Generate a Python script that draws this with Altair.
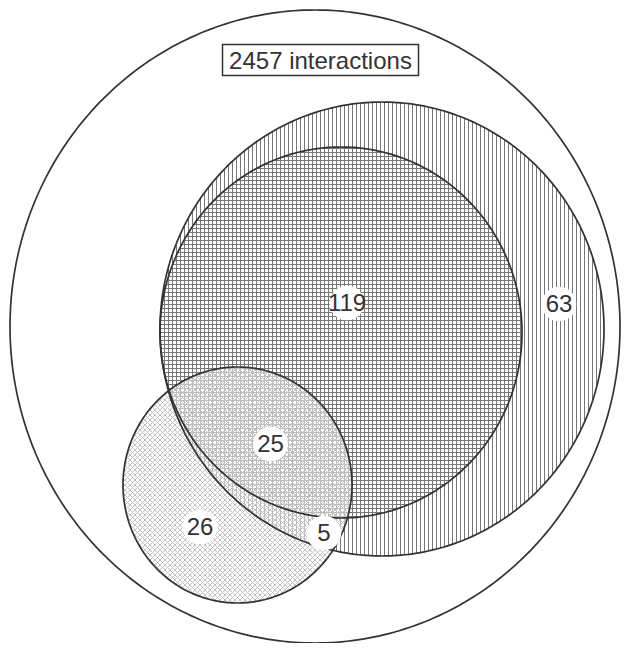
import altair as alt
import numpy as np
import pandas as pd

# ---- content ----
total_label = "2457 interactions"
region_counts = ["119", "63", "25", "26", "5"]
label_x = [347, 559, 270.5, 200, 324]
label_y = [303, 304, 444, 527, 533]

# ---- set geometry (page pixel coordinates) ----
set_names = ["outer", "large", "medium", "small"]
set_cx = [315, 382, 341, 237.5]
set_cy = [326.5, 329, 332.5, 485]
set_rx = [305, 222, 181, 114.5]
set_ry = [316.5, 227, 185.5, 118]

title_box = {"x": 222.5, "x2": 418.5, "y": 44.5, "y2": 75.5, "tx": 320.5, "ty": 60.5}

W, H = 613, 635
xs = alt.Scale(domain=[8, 8 + W], nice=False, zero=False)
ys = alt.Scale(domain=[8, 8 + H], nice=False, zero=False, reverse=True)
INK = "#333333"
HATCH = "#777777"


def geom(name):
    i = set_names.index(name)
    return set_cx[i], set_cy[i], set_rx[i], set_ry[i]


def vertical_hatch(name, step=4.0):
    cx, cy, rx, ry = geom(name)
    rows = []
    k0 = np.ceil((cx - rx - 0.5) / step)
    x = k0 * step + 0.5
    while x < cx + rx:
        u = (x - cx) / rx
        if abs(u) < 1:
            h = ry * np.sqrt(1 - u * u)
            rows.append({"x": x, "y": cy - h, "x2": x, "y2": cy + h})
        x += step
    return rows


def horizontal_hatch(name, step=4.0):
    cx, cy, rx, ry = geom(name)
    rows = []
    k0 = np.ceil((cy - ry - 0.5) / step)
    y = k0 * step + 0.5
    while y < cy + ry:
        v = (y - cy) / ry
        if abs(v) < 1:
            w = rx * np.sqrt(1 - v * v)
            rows.append({"x": cx - w, "y": y, "x2": cx + w, "y2": y})
        y += step
    return rows


def diagonal_hatch(name, step=5.0):
    cx, cy, rx, ry = geom(name)
    rows = []
    a = 1 / rx**2 + 1 / ry**2
    span = rx + ry + 10
    c = np.floor((cx - cy - span) / step) * step
    while c < cx - cy + span:
        b = 2 * (c - cx) / rx**2 - 2 * cy / ry**2
        cc = (c - cx) ** 2 / rx**2 + cy**2 / ry**2 - 1
        d = b * b - 4 * a * cc
        if d > 0:
            s1 = (-b - np.sqrt(d)) / (2 * a)
            s2 = (-b + np.sqrt(d)) / (2 * a)
            rows.append({"x": c + s1, "y": s1, "x2": c + s2, "y2": s2})
        c += step
    c = np.floor((cx + cy - span) / step) * step
    while c < cx + cy + span:
        b = -2 * (c - cx) / rx**2 - 2 * cy / ry**2
        cc = (c - cx) ** 2 / rx**2 + cy**2 / ry**2 - 1
        d = b * b - 4 * a * cc
        if d > 0:
            s1 = (-b - np.sqrt(d)) / (2 * a)
            s2 = (-b + np.sqrt(d)) / (2 * a)
            rows.append({"x": c - s1, "y": s1, "x2": c - s2, "y2": s2})
        c += step
    return rows


def rules(rows, color, width=1.0, opacity=1.0):
    return alt.Chart(pd.DataFrame(rows)).mark_rule(
        color=color, strokeWidth=width, opacity=opacity
    ).encode(
        x=alt.X("x:Q", scale=xs, axis=None),
        x2="x2:Q",
        y=alt.Y("y:Q", scale=ys, axis=None),
        y2="y2:Q",
    )


outline_rows = []
t = np.linspace(0, 2 * np.pi, 361)
for n in set_names:
    cx, cy, rx, ry = geom(n)
    for j, tt in enumerate(t):
        outline_rows.append({"set": n, "i": j, "x": cx + rx * np.cos(tt), "y": cy + ry * np.sin(tt)})
outlines = alt.Chart(pd.DataFrame(outline_rows)).mark_line(
    color=INK, strokeWidth=1.7
).encode(
    x=alt.X("x:Q", scale=xs, axis=None),
    y=alt.Y("y:Q", scale=ys, axis=None),
    detail="set:N",
    order="i:Q",
)

cx, cy, rx, ry = geom("small")
fx = cx + rx * np.cos(np.linspace(np.pi, 0, 241))
fh = ry * np.sqrt(np.clip(1 - ((fx - cx) / rx) ** 2, 0, 1))
small_fill = alt.Chart(pd.DataFrame({"x": fx, "ylo": cy - fh, "yhi": cy + fh})).mark_area(
    color="white", opacity=0.5
).encode(
    x=alt.X("x:Q", scale=xs, axis=None),
    y=alt.Y("ylo:Q", scale=ys, axis=None),
    y2="yhi:Q",
)

labels_df = pd.DataFrame({"label": region_counts, "x": label_x, "y": label_y})
disks = alt.Chart(labels_df).mark_circle(color="white", opacity=1, size=1200).encode(
    x=alt.X("x:Q", scale=xs, axis=None),
    y=alt.Y("y:Q", scale=ys, axis=None),
)
texts = alt.Chart(labels_df).mark_text(
    font="Liberation Sans", fontSize=24, color=INK, align="center", baseline="middle", dy=1
).encode(
    x=alt.X("x:Q", scale=xs, axis=None),
    y=alt.Y("y:Q", scale=ys, axis=None),
    text="label:N",
)

box_df = pd.DataFrame([dict(title_box, label=total_label)])
box = alt.Chart(box_df).mark_rect(fill="white", stroke=INK, strokeWidth=1.5).encode(
    x=alt.X("x:Q", scale=xs, axis=None),
    x2="x2:Q",
    y=alt.Y("y:Q", scale=ys, axis=None),
    y2="y2:Q",
)
box_text = alt.Chart(box_df).mark_text(
    font="Liberation Sans", fontSize=24, color=INK, align="center", baseline="middle", dy=1
).encode(
    x=alt.X("tx:Q", scale=xs, axis=None),
    y=alt.Y("ty:Q", scale=ys, axis=None),
    text="label:N",
)

chart = alt.layer(
    rules(vertical_hatch("large"), HATCH),
    rules(vertical_hatch("medium") + horizontal_hatch("medium"), HATCH),
    small_fill,
    rules(diagonal_hatch("small"), "#c2c2c2"),
    outlines,
    disks,
    texts,
    box,
    box_text,
).properties(
    width=W, height=H, padding=0, autosize=alt.AutoSizeParams(type="none")
).configure_view(stroke=None)

chart.save("out.html", embed_options={"renderer": "svg", "actions": False})
